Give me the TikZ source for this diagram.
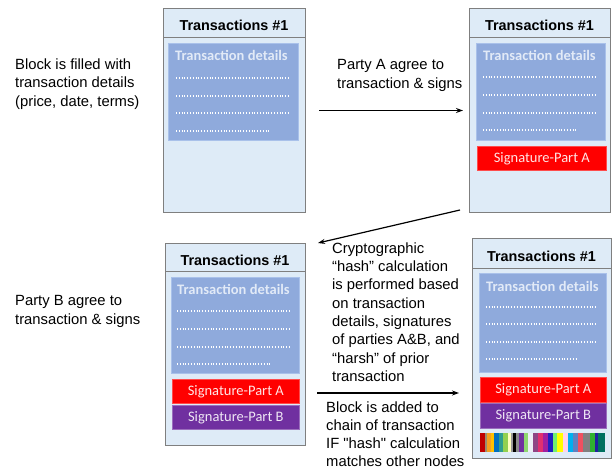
\documentclass[tikz,border=0pt]{standalone}
\usepackage{fontspec}
\setmainfont{Liberation Sans}[Ligatures=TeXOff]
\newfontfamily\calib{Carlito}
\usetikzlibrary{arrows.meta}
\definecolor{blockfill}{HTML}{DEEBF7}
\definecolor{blockdraw}{HTML}{7F7F7F}
\definecolor{detfill}{HTML}{8FAADC}
\definecolor{detdraw}{HTML}{A9C1EA}
\definecolor{dettext}{HTML}{E2EAF7}
\definecolor{sigred}{HTML}{FF0000}
\definecolor{sigpurple}{HTML}{7030A0}
\tikzset{
  block/.style={draw=blockdraw, line width=1pt, fill=blockfill, rectangle, inner sep=0pt, anchor=north west},
  detbox/.style={draw=detdraw, line width=0.8pt, fill=detfill, rectangle, inner sep=0pt, anchor=north west},
  sigA/.style={draw=red!70!white, line width=0.6pt, fill=sigred, rectangle, inner sep=0pt, anchor=north west, text=white!90!red, font=\calib\fontsize{14.5}{17}\selectfont},
  sigB/.style={draw=sigpurple!70!white, line width=0.6pt, fill=sigpurple, rectangle, inner sep=0pt, anchor=north west, text=white!88!sigpurple, font=\calib\fontsize{14.5}{17}\selectfont},
  title/.style={anchor=base, inner sep=0pt, font=\bfseries\fontsize{14.4}{17}\selectfont},
  dettitle/.style={anchor=base west, inner sep=0pt, text=dettext, font=\calib\bfseries\fontsize{14.5}{17}\selectfont},
  dots/.style={draw=white, line width=1.1pt, dash pattern=on 0.9pt off 1.9pt},
  body/.style={anchor=north west, inner sep=0pt, align=left, font=\fontsize{14.8}{18.3}\selectfont},
  arr/.style={-{Stealth[length=7pt,width=5pt]}, line width=1.2pt, black}
}
\begin{document}
\begin{tikzpicture}[x=1pt,y=-1pt]
\useasboundingbox (0,0) rectangle (613,469);

% ---------- Block 1 ----------
\node[block, minimum width=142pt, minimum height=204pt] (b1) at (163,8) {};
\draw[blockdraw, line width=1pt] (163,37) -- (305,37);
\node[title] (t1) at (234,30) {Transactions \#1};
\node[detbox, minimum width=130pt, minimum height=97pt] (d1) at (168,43) {};
\node[dettitle] (dt1) at (175,60) {Transaction details};
\draw[dots] (176,78) -- (289,78);
\draw[dots] (176,96) -- (289,96);
\draw[dots] (176,113) -- (289,113);
\draw[dots] (176,131) -- (271,131);

% ---------- Block 2 ----------
\node[block, minimum width=141pt, minimum height=204pt] (b2) at (469,8) {};
\draw[blockdraw, line width=1pt] (469,37) -- (610,37);
\node[title] (t2) at (539.5,30.5) {Transactions \#1};
\node[detbox, minimum width=129pt, minimum height=97pt] (d2) at (476,43) {};
\node[dettitle] (dt2) at (483,60) {Transaction details};
\draw[dots] (483,77) -- (596,77);
\draw[dots] (483,95) -- (596,95);
\draw[dots] (483,113) -- (596,113);
\draw[dots] (483,130) -- (577,130);
\node[sigA, minimum width=129pt, minimum height=24pt] (sa2) at (477,146) {Signature-Part A};

% ---------- Block 3 ----------
\node[block, minimum width=140pt, minimum height=202pt] (b3) at (165,243) {};
\draw[blockdraw, line width=1pt] (165,271) -- (305,271);
\node[title] (t3) at (235,265) {Transactions \#1};
\node[detbox, minimum width=128pt, minimum height=96pt] (d3) at (171,277) {};
\node[dettitle] (dt3) at (177,294) {Transaction details};
\draw[dots] (177,311) -- (290,311);
\draw[dots] (177,329) -- (290,329);
\draw[dots] (177,347) -- (290,347);
\draw[dots] (177,364) -- (272,364);
\node[sigA, minimum width=127pt, minimum height=24pt] (sa3) at (172,379) {Signature-Part A};
\node[sigB, minimum width=127pt, minimum height=24pt] (sb3) at (172,405) {Signature-Part B};

% ---------- Block 4 ----------
\node[block, minimum width=139pt, minimum height=220pt] (b4) at (472,238) {};
\draw[blockdraw, line width=1pt] (472,268) -- (611,268);
\node[title] (t4) at (541.5,261) {Transactions \#1};
\node[detbox, minimum width=127pt, minimum height=99pt] (d4) at (479,273) {};
\node[dettitle] (dt4) at (486,291) {Transaction details};
\draw[dots] (486,307) -- (597,307);
\draw[dots] (486,324) -- (597,324);
\draw[dots] (486,342) -- (597,342);
\draw[dots] (486,359) -- (578,359);
\node[sigA, minimum width=126pt, minimum height=25pt] (sa4) at (480,377) {Signature-Part A};
\node[sigB, minimum width=126pt, minimum height=25pt] (sb4) at (480,403) {Signature-Part B};
% hash colour bar
\foreach \xa/\xb/\c in {
  480/485/C00000, 485/487/9B8C6E, 487/491/F4A020, 491/494/FFC000, 494/499/0070C0, 499/503/2E9E8E,
  503/508/92D050, 508/511/FFFFC0, 511/513/9A9A9A, 513/516/000000, 516/519/8C8C8C, 519/524/7030A0,
  524/528/8ED870, 528/533/EDEFF7, 533/538/8E4585, 538/543/E0306F, 543/548/A020A0, 548/553/2020C0,
  553/557/70F070, 557/563/FFFF00, 563/568/FFD0F0, 568/573/00B0F0, 573/578/6080C0, 578/583/F05060,
  583/590/808080, 590/595/30B030, 595/598/2020A0, 598/605/007060}{
  \definecolor{barc}{HTML}{\c}
  \fill[barc] (\xa,433) rectangle (\xb,452);
}

% ---------- Texts ----------
\node[body] (txt1) at (15,58.6) {Block is filled with\\transaction details\\(price, date, terms)};
\node[body] (txt2) at (337,59.4) {Party A agree to\\transaction \& signs};
\node[body] (txt3) at (15,295.4) {Party B agree to\\transaction \& signs};
\node[body] (txt4) at (332,242.4) {Cryptographic\\“hash” calculation\\is performed based\\on transaction\\details, signatures\\of parties A\&B, and\\“harsh” of prior\\transaction};
\node[body, font=\fontsize{14.8}{17.9}\selectfont] (txt5) at (326,401.6) {Block is added to\\chain of transaction\\IF "hash" calculation\\matches other nodes};

% ---------- Arrows ----------
\draw[arr] ([xshift=13pt]b1.east) -- ([xshift=-6pt]b2.west);
\coordinate (c2s) at (460,210);
\coordinate (c2e) at (318,243);
\draw[arr] (c2s) -- (c2e);
\coordinate (c3s) at (317,393);
\coordinate (c3e) at (459,393);
\draw[arr] (c3s) -- (c3e);
\end{tikzpicture}
\end{document}
